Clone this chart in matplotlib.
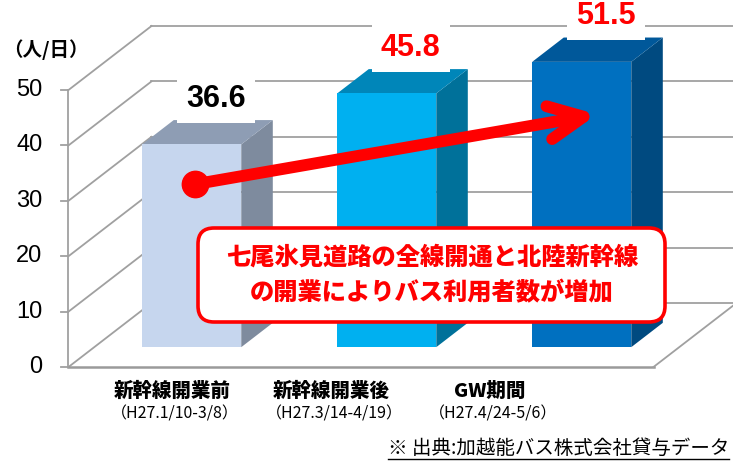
import matplotlib
matplotlib.use('Agg')
import matplotlib.pyplot as plt
from matplotlib.patches import Polygon, FancyBboxPatch
from matplotlib.lines import Line2D

# ---------------- data ----------------
categories = ['新幹線開業前', '新幹線開業後', 'GW期間']
periods = ['（H27.1/10-3/8）', '（H27.3/14-4/19）', '（H27.4/24-5/6）']
values = [36.6, 45.8, 51.5]
yticks = [0, 10, 20, 30, 40, 50]
unit_label = '（人/日）'
callout_lines = ['七尾氷見道路の全線開通と北陸新幹線', 'の開業によりバス利用者数が増加']
source_text = '※ 出典:加越能バス株式会社貸与データ'
arrow_start = (0.15, 33.0)   # (category position, value) of the red dot
arrow_end = (2.21, 45.6)     # arrow tip

# ---------------- styles ----------------
front_colors = ['#C6D6EE', '#00B0F0', '#0070C0']
top_colors = ['#8E9DB4', '#0086B9', '#00589A']
side_colors = ['#7E8B9E', '#00719A', '#004A80']
value_colors = ['black', '#FF0000', '#FF0000']
grid_color = '#A0A0A0'
CJK = ['Noto Sans CJK JP', 'DejaVu Sans']
LAT = ['Liberation Sans', 'DejaVu Sans']

W, H = 733, 462
fig = plt.figure(figsize=(W / 100, H / 100), dpi=100)
ax = fig.add_axes([0, 0, 1, 1])

# scale: pixel x = PX0 + PXS * x ; pixel y (from top) = PY0 - PYS * v
PX0, PXS, PY0, PYS = 166, 195, 367, 5.54
ax.set_xlim(-PX0 / PXS, (W - PX0) / PXS)
ax.set_ylim(-(H - PY0) / PYS, PY0 / PYS)
ax.axis('off')

DX = 83 / PXS      # full depth offset, x
DY = 64 / PYS      # full depth offset, y
X0, X1 = -0.5, len(categories) - 0.5
DF, DB = 0.31, 0.69   # bar front/back depth
HW = 0.254            # bar half width


def P(x, v, d):
    return (x + d * DX, v + d * DY)


def fx(px):
    return px / W


def fy(py):
    return 1 - py / H


# walls / grid
for v in yticks:
    a, b = P(X0, v, 0), P(X0, v, 1)
    ax.plot([a[0], b[0]], [a[1], b[1]], color=grid_color, lw=1.3, zorder=1)
    c = P(X1, v, 1)
    ax.plot([b[0], c[0]], [b[1], c[1]], color=grid_color, lw=1.3, zorder=1)
    # tick marks and labels
    ax.plot([X0 - 7 / PXS, X0], [v, v], color=grid_color, lw=1.3, zorder=1)
    ax.text(X0 - 26 / PXS, v, str(v), ha='right', va='center',
            fontsize=17, family=LAT, color='black')

# floor edges
a, b = P(X0, 0, 0), P(X1, 0, 0)
ax.plot([a[0], b[0]], [a[1], b[1]], color='#9A9A9A', lw=1.8, zorder=1)
c = P(X1, 0, 1)
ax.plot([b[0], c[0]], [b[1], c[1]], color=grid_color, lw=1.3, zorder=1)
# vertical axis
ax.plot([X0, X0], [0, yticks[-1]], color=grid_color, lw=1.3, zorder=1)

# bars
for i, v in enumerate(values):
    xl, xr = i - HW, i + HW
    front = [P(xl, 0, DF), P(xr, 0, DF), P(xr, v, DF), P(xl, v, DF)]
    top = [P(xl, v, DF), P(xr, v, DF), P(xr, v, DB), P(xl, v, DB)]
    side = [P(xr, 0, DF), P(xr, 0, DB), P(xr, v, DB), P(xr, v, DF)]
    ax.add_patch(Polygon(side, closed=True, fc=side_colors[i], ec='none', zorder=3))
    ax.add_patch(Polygon(top, closed=True, fc=top_colors[i], ec='none', zorder=3))
    ax.add_patch(Polygon(front, closed=True, fc=front_colors[i], ec='none', zorder=3))
    ax.annotate(f'{v}', xy=(i + 0.6 * DX, v + DF * DY), xytext=(0, 33),
                textcoords='offset points', ha='center', va='center',
                fontsize=22, fontweight='bold', family=LAT,
                color=value_colors[i], zorder=4,
                bbox=dict(boxstyle='square,pad=0.3', fc='white', ec='none'))

# arrow
ax.annotate('', xy=arrow_end, xytext=arrow_start,
            arrowprops=dict(arrowstyle='->,head_length=1.25,head_width=0.6',
                            mutation_scale=20, lw=8.5, color='#FF0000',
                            capstyle='round', joinstyle='round',
                            shrinkA=0, shrinkB=0), zorder=6)
ax.plot([arrow_start[0]], [arrow_start[1]], 'o', ms=19, color='#FF0000', zorder=6)

# callout box
box = FancyBboxPatch((1.98, (H - 322) / 100), 4.67, 0.94,
                     boxstyle='round,pad=0,rounding_size=0.16',
                     transform=fig.dpi_scale_trans, fc='white', ec='#FF0000',
                     lw=2.6, zorder=7, clip_on=False)
ax.add_patch(box)
for k, line in enumerate(callout_lines):
    fig.text(fx(432), fy(257 + 36 * k), line, ha='center', va='center',
             fontsize=17.5, fontweight='heavy', family=CJK, color='#FF0000', zorder=8)

# unit label
fig.text(fx(3), fy(50), unit_label, ha='left', va='center', fontsize=14,
         fontweight='bold', family=CJK)

# category labels
for i, (c, p) in enumerate(zip(categories, periods)):
    xc = 172 + 159 * i
    fig.text(fx(xc), fy(391), c, ha='center', va='center', fontsize=14,
             fontweight='heavy', family=CJK)
    fig.text(fx(xc + 3), fy(414), p, ha='center', va='center', fontsize=11.5,
             family=CJK)

# source
src = fig.text(fx(729), fy(448), source_text, ha='right', va='center',
               fontsize=14, family=CJK)
fig.canvas.draw()
bb = src.get_window_extent()
uy = H - 459
fig.add_artist(Line2D([bb.x0 / W, bb.x1 / W], [uy / H, uy / H],
                      transform=fig.transFigure, color='black', lw=1.0))

fig.savefig('out.png', dpi=100)
